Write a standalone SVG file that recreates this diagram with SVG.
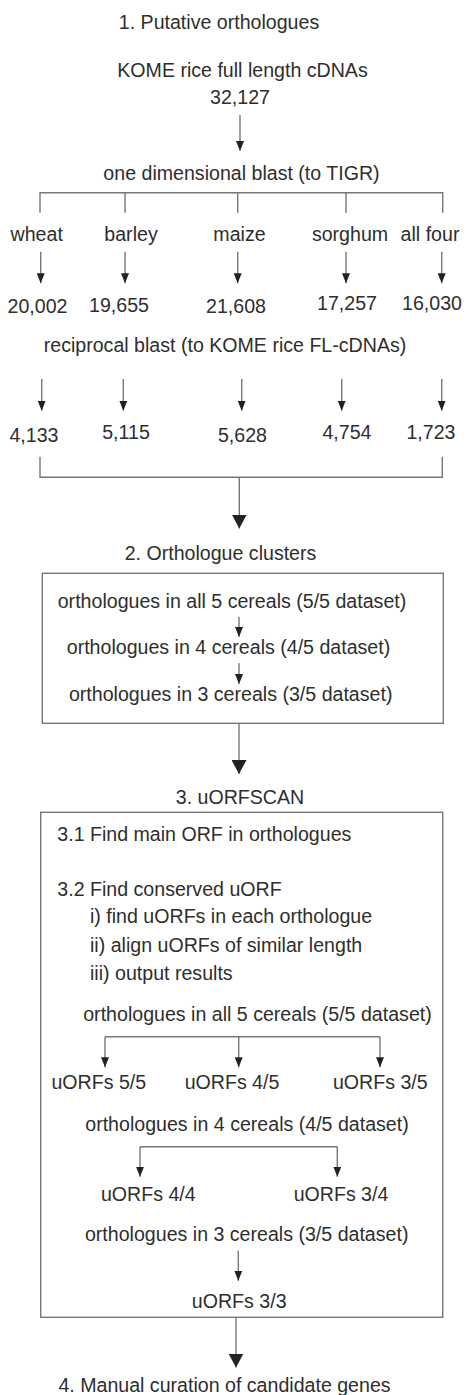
<svg xmlns="http://www.w3.org/2000/svg" width="476" height="1395" viewBox="0 0 476 1395">
<style>
text{font-family:"Liberation Sans",Arial,sans-serif;font-size:19.6px;fill:#2e2e2e;text-anchor:middle}
text.l{text-anchor:start}
.ln{fill:none;stroke:#777;stroke-width:1.4}
.box{fill:none;stroke:#777;stroke-width:1.4}
.sa{marker-end:url(#sm)}
.ba{marker-end:url(#bg)}
</style>
<defs>
<marker id="sm" markerUnits="userSpaceOnUse" viewBox="0 0 10 8" markerWidth="10" markerHeight="8" refX="10" refY="4" orient="auto"><path d="M0,0 L10,4 L0,8 z" fill="#222"/></marker>
<marker id="bg" markerUnits="userSpaceOnUse" viewBox="0 0 14 15" markerWidth="14" markerHeight="15" refX="14" refY="7.5" orient="auto"><path d="M0,0 L14,7.5 L0,15 z" fill="#222"/></marker>
</defs>
<rect width="476" height="1395" fill="#fff"/>
<g id="connectors">
<line class="ln sa" x1="240" y1="115" x2="240" y2="151"/>
<path class="ln" d="M40,212.7 V192.7 H442.7 V212.7 M125,192.7 V212.7 M237.7,192.7 V212.7 M346,192.7 V212.7"/>
<line class="ln sa" x1="40.7" y1="251.7" x2="40.7" y2="283.3"/>
<line class="ln sa" x1="125" y1="251.7" x2="125" y2="283.3"/>
<line class="ln sa" x1="237.7" y1="251.7" x2="237.7" y2="283.3"/>
<line class="ln sa" x1="346" y1="251.7" x2="346" y2="283.3"/>
<line class="ln sa" x1="441.7" y1="251.7" x2="441.7" y2="283.3"/>
<line class="ln sa" x1="41.7" y1="379" x2="41.7" y2="410.7"/>
<line class="ln sa" x1="123.3" y1="379" x2="123.3" y2="410.7"/>
<line class="ln sa" x1="241.7" y1="379" x2="241.7" y2="410.7"/>
<line class="ln sa" x1="341.7" y1="379" x2="341.7" y2="410.7"/>
<line class="ln sa" x1="441.7" y1="379" x2="441.7" y2="410.7"/>
<path class="ln" d="M40,456.7 V477.3 H442.3 V456.7"/>
<line class="ln ba" x1="239.3" y1="477.3" x2="239.3" y2="528.5"/>
<line class="ln sa" x1="239" y1="616.7" x2="239" y2="637"/>
<line class="ln sa" x1="239" y1="663.3" x2="239" y2="684"/>
<line class="ln ba" x1="239" y1="723.3" x2="239" y2="774"/>
<path class="ln" d="M238.7,1036.7 H105 M238.7,1036.7 H380"/>
<line class="ln sa" x1="105" y1="1036.7" x2="105" y2="1067.3"/>
<line class="ln sa" x1="238.7" y1="1036.7" x2="238.7" y2="1067.3"/>
<line class="ln sa" x1="380" y1="1036.7" x2="380" y2="1067.3"/>
<path class="ln" d="M140,1146.7 H337.3"/>
<line class="ln sa" x1="140" y1="1146.7" x2="140" y2="1176.7"/>
<line class="ln sa" x1="337.3" y1="1146.7" x2="337.3" y2="1176.7"/>
<line class="ln sa" x1="238.3" y1="1250.7" x2="238.3" y2="1280.7"/>
<line class="ln ba" x1="236" y1="1317.3" x2="236" y2="1367.5"/>
</g>
<g id="step1">
<text x="219" y="29">1. Putative orthologues</text>
<text x="242.5" y="77">KOME rice full length cDNAs</text>
<text x="240" y="104">32,127</text>
<text x="241.5" y="180">one dimensional blast (to TIGR)</text>
</g>
<g id="species">
<text x="36.7" y="240.5">wheat</text>
<text x="131" y="240.5">barley</text>
<text x="239.5" y="240.5">maize</text>
<text x="350" y="240.5">sorghum</text>
<text x="430" y="240.5">all four</text>
</g>
<g id="counts1">
<text x="37.5" y="312.5">20,002</text>
<text x="119" y="311.7">19,655</text>
<text x="236" y="313">21,608</text>
<text x="347" y="310">17,257</text>
<text x="432" y="310">16,030</text>
</g>
<g id="reciprocal">
<text x="225" y="351.7">reciprocal blast (to KOME rice FL-cDNAs)</text>
</g>
<g id="counts2">
<text x="34" y="441.7">4,133</text>
<text x="126" y="439">5,115</text>
<text x="242.5" y="441.7">5,628</text>
<text x="347" y="439">4,754</text>
<text x="431" y="439">1,723</text>
</g>
<g id="step2">
<text x="220.5" y="560">2. Orthologue clusters</text>
<rect class="box" x="42.3" y="573.3" width="401" height="150"/>
<text x="232" y="607.7">orthologues in all 5 cereals (5/5 dataset)</text>
<text x="228.5" y="654.3">orthologues in 4 cereals (4/5 dataset)</text>
<text x="230.7" y="700.7">orthologues in 3 cereals (3/5 dataset)</text>
</g>
<g id="step3">
<text x="240" y="804">3. uORFSCAN</text>
<rect class="box" x="40.7" y="812.3" width="402" height="505"/>
<text class="l" x="57.3" y="840.7">3.1 Find main ORF in orthologues</text>
<text class="l" x="57.3" y="896">3.2 Find conserved uORF</text>
<text class="l" x="90" y="923.3">i) find uORFs in each orthologue</text>
<text class="l" x="90" y="951.7">ii) align uORFs of similar length</text>
<text class="l" x="90" y="980">iii) output results</text>
<text x="257.5" y="1020.7">orthologues in all 5 cereals (5/5 dataset)</text>
<text x="98.8" y="1089.3">uORFs 5/5</text>
<text x="232" y="1089.3">uORFs 4/5</text>
<text x="380.3" y="1089.3">uORFs 3/5</text>
<text x="247" y="1131">orthologues in 4 cereals (4/5 dataset)</text>
<text x="148.3" y="1200.7">uORFs 4/4</text>
<text x="341" y="1200.7">uORFs 3/4</text>
<text x="246.7" y="1241">orthologues in 3 cereals (3/5 dataset)</text>
<text x="239.2" y="1308.3">uORFs 3/3</text>
</g>
<g id="step4">
<text x="224.5" y="1391.7">4. Manual curation of candidate genes</text>
</g>
</svg>
